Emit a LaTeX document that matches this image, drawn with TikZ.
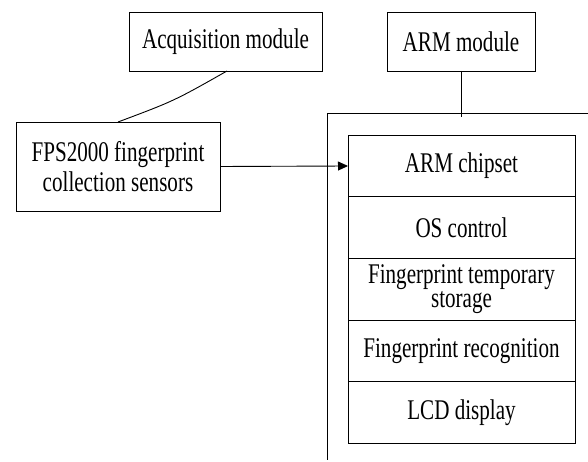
\documentclass[tikz,border=0pt]{standalone}
\usepackage{fontspec}
\setmainfont{Liberation Serif}
\newfontfamily\condfont[FakeStretch=0.74]{Liberation Serif}
\usetikzlibrary{arrows.meta}
\begin{document}
\begin{tikzpicture}[x=1pt,y=-1pt,
  line width=0.9pt,
  boxstyle/.style={draw=black, inner sep=0pt, outer sep=0pt, align=center,
    font=\condfont\fontsize{28.5}{24}\selectfont},
  cellstyle/.style={boxstyle, minimum width=227pt, minimum height=61.6pt},
  arrowstyle/.style={-{Triangle[length=10pt,width=9pt]}}]
\useasboundingbox (0,0) rectangle (588,462);
% top modules
\node[boxstyle, minimum width=193pt, minimum height=59pt] (acq) at (225.5,41.5) {Acquisition module};
\node[boxstyle, minimum width=148pt, minimum height=59pt] (arm) at (461,41.5) {ARM module};
\node[boxstyle, minimum width=204pt, minimum height=89pt, font=\condfont\fontsize{28.5}{30}\selectfont] (fps) at (118,166.5) {FPS2000 fingerprint\\collection sensors};
% outer frame
\coordinate (ftl) at (327,113);
\coordinate (ftr) at (588,113);
\coordinate (fbl) at (327,460);
\coordinate (armend) at (461,117);
\draw (ftr) -- (ftl) -- (fbl);
\draw (arm.south) -- (armend);
% inner cells
\node[cellstyle] (c1) at (461.5,166) {ARM chipset};
\node[cellstyle, anchor=north] (c2) at (c1.south) {OS control};
\node[cellstyle, anchor=north] (c3) at (c2.south) {Fingerprint temporary\\storage};
\node[cellstyle, anchor=north] (c4) at (c3.south) {Fingerprint recognition};
\node[cellstyle, anchor=north] (c5) at (c4.south) {LCD display};
% connectors
\draw (acq.south) ++(1.5,0) coordinate (acqs);
\draw (acqs) .. controls (174,101) .. (fps.north);
\draw[arrowstyle] (fps.east) -- (c1.west);
\end{tikzpicture}
\end{document}
